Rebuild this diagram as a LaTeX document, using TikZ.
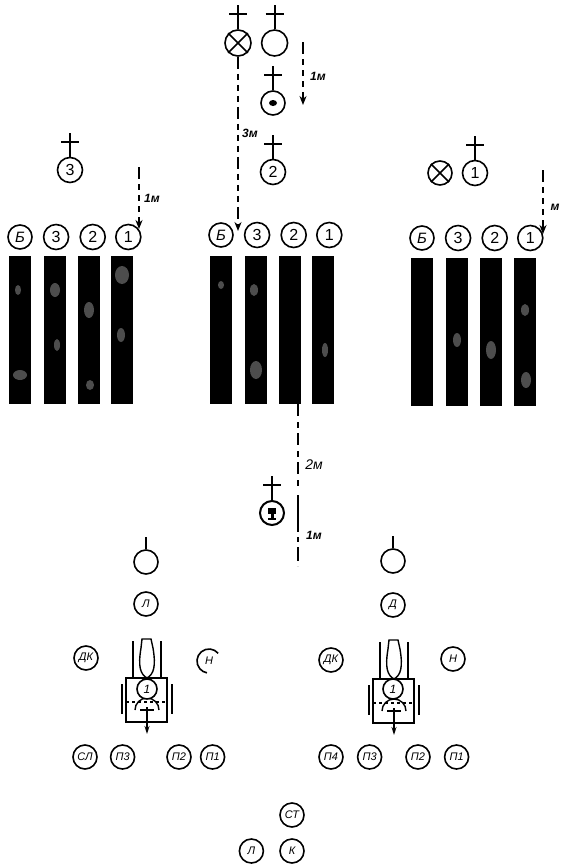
\documentclass[tikz,border=0pt]{standalone}
\usepackage{fontspec}
\setmainfont{Liberation Sans}
\usetikzlibrary{positioning,arrows.meta}

\tikzset{
  fig/.style={circle, draw, line width=1.6pt, minimum size=24pt, inner sep=0pt,
    font=\itshape\fontsize{11}{11}\selectfont},
  bigfig/.style={fig, minimum size=25pt, font=\fontsize{16}{16}\selectfont},
  bar/.style={fill=black, draw=none, minimum width=22pt, minimum height=148pt, inner sep=0pt},
  speck/.style={fill=white, opacity=0.3},
  metre/.style={line width=2.4pt, dash pattern=on 12pt off 5pt on 6pt off 5pt on 6pt off 5pt on 6pt off 5pt,
    -{Stealth[length=9pt,width=7pt]}},
  dist/.style={font=\itshape\bfseries\fontsize{12}{12}\selectfont, inner sep=1pt},
  pics/crossmark/.style={code={
    \draw[line width=1.9pt] (0,0) -- (0,-24);
    \draw[line width=2.4pt] (-9,-15) -- (9,-15);
  }},
  pics/stem/.style={code={
    \draw[line width=2.4pt] (0,0) -- (0,-12);
  }},
  pics/altar/.style={code={
    \draw[line width=1.4pt] (-21,-22) rectangle (20,22);
    \draw[line width=1.1pt, dashed] (-21,2) -- (20,2);
    \draw[line width=1.6pt] (-14,-22) -- (-14,-59) (14,-22) -- (14,-59);
    \draw[line width=1.4pt] (-5,-61) -- (4,-61) -- (6,-52) .. controls (9,-34) and (7,-26) .. (0,-22)
      .. controls (-7,-26) and (-9,-34) .. (-6,-52) -- cycle;
    \draw[line width=2.6pt] (-25,-16) -- (-25,14) (25,-16) -- (25,14);
    \draw[line width=1.4pt] (-12,10) arc[start angle=180, end angle=360, radius=12];
    \draw[line width=2pt, -{Stealth[length=8pt,width=5pt]}] (0,7) -- (0,34);
    \draw[line width=2pt] (-7,10) -- (7,10);
  }}
}

\begin{document}
\begin{tikzpicture}[x=1pt, y=-1pt]
  \useasboundingbox (0,0) rectangle (560,865);
  % Top group
  \node[fig, minimum size=26pt] (xtop) at (238,43) {};
  \node[fig, minimum size=26pt, right=9pt of xtop] (otop) {};
  \node[fig] (dtop) at (273,103) {};
  \node[bigfig] (mid2) at (273,172) {2};
  \draw[line width=1.6pt] (xtop.north west) -- (xtop.south east) (xtop.north east) -- (xtop.south west);
  \fill (dtop.center) ellipse (4pt and 3pt);
  \pic at (xtop.north) {crossmark};
  \pic at (otop.north) {crossmark};
  \pic at (dtop.north) {crossmark};
  \pic at (mid2.north) {crossmark};
  % Left and right priests
  \node[bigfig] (left3) at (70,170) {3};
  \node[bigfig] (right1) at (475,173) {1};
  \node[fig] (xright) at (440,173) {};
  \draw[line width=1.6pt] (xright.north west) -- (xright.south east) (xright.north east) -- (xright.south west);
  \pic at (left3.north) {crossmark};
  \pic at (right1.north) {crossmark};
  % Rows of numbers and bars
  \foreach \n/\x/\y in {l/20/237, m/221/235, r/422/238} {
    \node[fig, font=\itshape\fontsize{15}{15}\selectfont] (\n b) at (\x,\y) {Б};
    \node[bigfig, right=10pt of \n b] (\n 3) {3};
    \node[bigfig, right=10pt of \n 3] (\n 2) {2};
    \node[bigfig, right=9pt of \n 2] (\n 1) {1};
  }
  \foreach \n/\x/\y in {l1/20/330, l2/55/330, l3/89/330, l4/122/330,
                        m1/221/330, m2/256/330, m3/290/330, m4/323/330,
                        r1/422/331.5, r2/457/331.5, r3/491/331.5, r4/525/331.5} {
    \node[bar] (bar\n) at (\x,\y) {};
  }
  % Specks on the bars
  \foreach \x/\y/\a/\b in {20/375/7/5, 18/290/3/5, 55/290/5/7, 57/345/3/6, 89/310/5/8, 90/385/4/5,
                           122/275/7/9, 121/335/4/7, 256/370/6/9, 254/290/4/6, 325/350/3/7,
                           457/340/4/7, 491/350/5/9, 525/310/4/6, 526/380/5/8, 221/285/3/4} {
    \fill[speck] (\x,\y) ellipse (\a pt and \b pt);
  }
  % Distance coordinates
  \coordinate (a1) at (303,42);
  \coordinate (a2) at (303,105);
  \coordinate (b1) at (139,167);
  \coordinate (b2) at (139,229);
  \coordinate (c1) at (543,170);
  \coordinate (c2) at (543,234);
  \coordinate (d2) at (238,231);
  \coordinate (e1) at (298,404);
  \coordinate (e2) at (298,490);
  \coordinate (e3) at (298,495);
  \coordinate (e4) at (298,527);
  \coordinate (e5) at (298,566);
  % Connect nodes
  \draw[metre] (a1) -- (a2);
  \draw[metre] (b1) -- (b2);
  \draw[metre] (c1) -- (c2);
  \draw[metre] (xtop.south) -- (d2);
  \draw[line width=1.8pt, dash pattern=on 12pt off 6pt on 6pt off 5pt] (e1) -- (e2);
  \draw[line width=2.4pt] (e3) -- (e4);
  \draw[line width=1.8pt, dash pattern=on 5pt off 5pt on 5pt off 5pt on 14pt off 5pt] (e4) -- (e5);
  \node[dist] (t1) at (318,76) {1м};
  \node[dist] (t2) at (250,133) {3м};
  \node[dist] (t3) at (152,198) {1м};
  \node[dist] (t4) at (555,207) {м};
  \node[dist, font=\itshape\fontsize{14}{14}\selectfont] (t5) at (314,465) {2м};
  \node[dist] (t6) at (314,535) {1м};
  % Chalice
  \node[fig, line width=2pt] (chal) at (272,513) {};
  \fill (chal.center) ++(-4,-5) rectangle ++(8,6);
  \fill (chal.center) ++(-1.5,0) rectangle ++(3,5);
  \fill (chal.center) ++(-4,5) rectangle ++(8,2);
  \pic at (chal.north) {crossmark};
  % Left group
  \node[fig] (lo) at (146,562) {};
  \pic at (lo.north) {stem};
  \node[fig] (ld) at (146,604) {Л};
  \node[fig] (ldk) at (86,658) {ДК};
  \node[fig, draw=none] (ln) at (209,661) {Н};
  \draw[line width=1.6pt] (ln) ++(-40:12) arc[start angle=-40, end angle=-260, radius=12];
  \node[fig] (lp1) at (85,757) {СЛ};
  \node[fig, right=12pt of lp1] (lp2) {П3};
  \node[fig] (lp3) at (179,757) {П2};
  \node[fig, right=8pt of lp3] (lp4) {П1};
  \pic at (147,700) {altar};
  \node[fig, fill=white, minimum size=20pt, font=\itshape\fontsize{12}{12}\selectfont] (lc) at (147,689) {1};
  % Right group
  \node[fig] (ro) at (393,561) {};
  \pic at (ro.north) {stem};
  \node[fig] (rd) at (393,605) {Д};
  \node[fig] (rdk) at (331,660) {ДК};
  \node[fig] (rn) at (453,659) {Н};
  \node[fig] (rp1) at (331,757) {П4};
  \node[fig, right=13pt of rp1] (rp2) {П3};
  \node[fig] (rp3) at (418,757) {П2};
  \node[fig, right=13pt of rp3] (rp4) {П1};
  \pic at (394,701) {altar};
  \node[fig, fill=white, minimum size=20pt, font=\itshape\fontsize{12}{12}\selectfont] (rc) at (393,689) {1};
  % Bottom group
  \node[fig] (st) at (292,815) {СТ};
  \node[fig] (pk) at (292,851) {К};
  \node[fig, left=15pt of pk] (pl) {Л};
\end{tikzpicture}
\end{document}
